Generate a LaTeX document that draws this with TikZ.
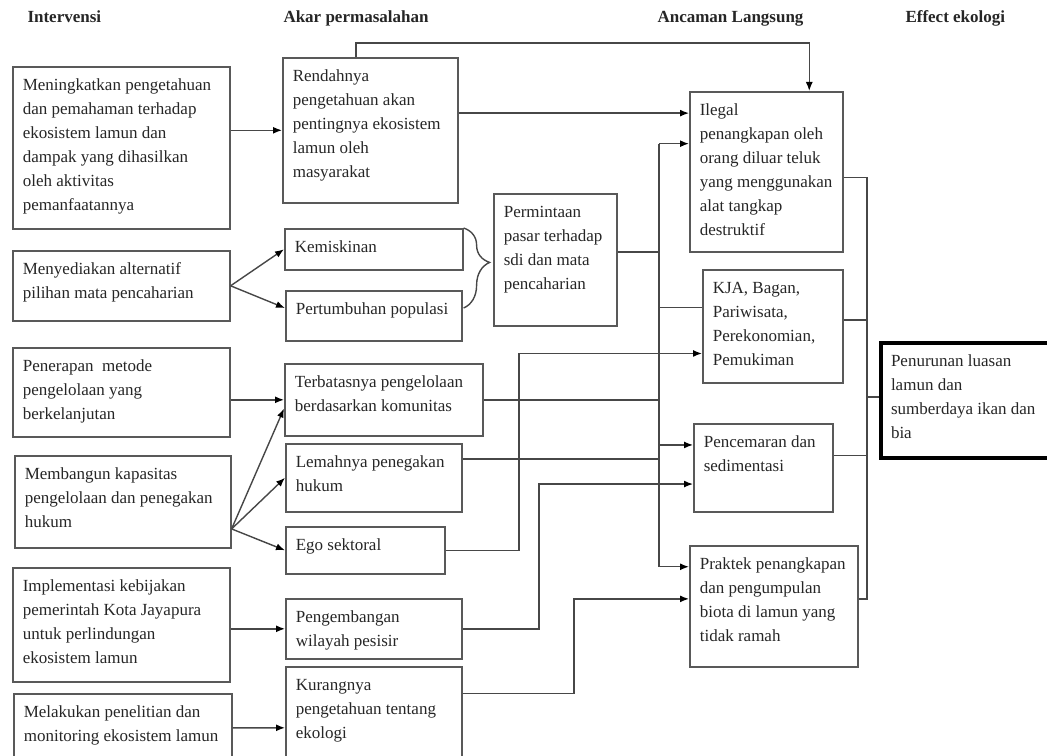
\documentclass[tikz,border=0pt]{standalone}
\usepackage{fontspec}
\setmainfont{Liberation Serif}
\usepackage{tikz}
\usetikzlibrary{arrows.meta,decorations.pathreplacing}
\newcommand{\bx}[3]{\parbox[t][\dimexpr#2bp-14bp\relax][t]{\dimexpr#1bp-20bp\relax}{\begin{tabular}[t]{@{}l@{}}#3\end{tabular}}}

\begin{document}
\begin{tikzpicture}[x=1bp,y=-1bp,
  box/.style={draw=black!65, line width=1.6bp, anchor=north west, inner xsep=10bp, inner ysep=7bp, text=black!85, font=\fontsize{17bp}{24bp}\selectfont},
  head/.style={anchor=base west, text=black!85, font=\fontsize{17bp}{24bp}\selectfont\bfseries},
  arr/.style={-{Latex[length=9bp,width=7bp,color=black]}},
  brc/.style={decorate, decoration={brace, amplitude=26bp, aspect=0.43}}]
\useasboundingbox (0,0) rectangle (1047,756);
\clip (0,0) rectangle (1047,756);
%HEADERS
\node[head] (hint) at (24,23) {Intervensi};
\node[head] (hakar) at (280,23) {Akar permasalahan};
\node[head] (hanc) at (654,23) {Ancaman Langsung};
\node[head] (heff) at (902,23) {Effect ekologi};
%INTERVENSI
\node[box] (int1) at (12,66) {\bx{217}{162}{Meningkatkan pengetahuan\\ dan pemahaman terhadap\\ ekosistem lamun dan\\ dampak yang dihasilkan\\ oleh aktivitas\\ pemanfaatannya}};
\node[box] (int2) at (12,250) {\bx{217}{70}{Menyediakan alternatif\\ pilihan mata pencaharian}};
\node[box] (int3) at (12,347) {\bx{217}{89}{Penerapan\ \ metode\\ pengelolaan yang\\ berkelanjutan}};
\node[box] (int4) at (14,455) {\bx{216}{92}{Membangun kapasitas\\ pengelolaan dan penegakan\\ hukum}};
\node[box] (int5) at (12,567) {\bx{217}{114}{Implementasi kebijakan\\ pemerintah Kota Jayapura\\ untuk perlindungan\\ ekosistem lamun}};
\node[box] (int6) at (13,693) {\bx{218}{68}{Melakukan penelitian dan\\ monitoring ekosistem lamun}};
%AKAR
\node[box] (akar1) at (282,57) {\bx{175}{145}{Rendahnya\\ pengetahuan akan\\ pentingnya ekosistem\\ lamun oleh\\ masyarakat}};
\node[box] (akar2) at (284,228) {\bx{178}{41}{Kemiskinan}};
\node[box] (akar3) at (285,290) {\bx{176}{50}{Pertumbuhan populasi}};
\node[box] (akar4) at (284,363) {\bx{198}{72}{Terbatasnya pengelolaan\\ berdasarkan komunitas}};
\node[box] (akar5) at (285,443) {\bx{176}{68}{Lemahnya penegakan\\ hukum}};
\node[box] (akar6) at (285,526) {\bx{159}{47}{Ego sektoral}};
\node[box] (akar7) at (285,598) {\bx{176}{60}{Pengembangan\\ wilayah pesisir}};
\node[box] (akar8) at (285,666) {\bx{176}{122}{Kurangnya\\ pengetahuan tentang\\ ekologi}};
\node[box] (pasar) at (493,193) {\bx{123}{132}{Permintaan\\ pasar terhadap\\ sdi dan mata\\ pencaharian}};
%ANCAMAN
\node[box] (anc1) at (689,91) {\bx{153}{160}{Ilegal\\ penangkapan oleh\\ orang diluar teluk\\ yang menggunakan\\ alat tangkap\\ destruktif}};
\node[box] (anc2) at (702,269) {\bx{140}{113}{KJA, Bagan,\\ Pariwisata,\\ Perekonomian,\\ Pemukiman}};
\node[box] (anc3) at (693,423) {\bx{139}{88}{Pencemaran dan\\ sedimentasi}};
\node[box] (anc4) at (689,545) {\bx{168}{121}{Praktek penangkapan\\ dan pengumpulan\\ biota di lamun yang\\ tidak ramah}};
%EFFECT
\node[box, draw=black, line width=4bp] (eff) at (879,341) {\bx{190}{115}{Penurunan luasan\\ lamun dan\\ sumberdaya ikan dan\\ bia}};
%BUS LINES
\coordinate (top) at (0,43);
\coordinate (lbus) at (659,0);
\coordinate (rbus) at (867,0);
\coordinate (egox) at (519,0);
\coordinate (pesx) at (539,0);
\coordinate (ekox) at (574,0);
\begin{scope}[draw=black!72, line width=1.4bp]
% intervensi -> akar
\draw[arr] (akar1.west -| int1.east) -- (akar1.west);
\draw[arr] (int2.east) -- (akar2.west);
\draw[arr] (int2.east) -- (akar3.175);
\draw[arr] (akar4.west -| int3.east) -- (akar4.west);
\draw[arr] (int4.346) -- (akar4.185);
\draw[arr] (int4.346) -- (akar5.west);
\draw[arr] (int4.346) -- (akar6.west);
\draw[arr] (akar7.west -| int5.east) -- (akar7.west);
\draw[arr] (int6.east) -- (akar8.west);
\draw[brc] (akar2.north east) -- (akar2.north east |- akar3.175);
% akar -> ancaman
\draw[arr] (akar1.101) -- (akar1.101 |- top) -- (anc1.62 |- top) -- (anc1.62);
\draw[arr] (akar1.11) -- (akar1.11 -| anc1.west);
\draw[arr] (anc1.160 -| lbus) |- (anc4.155);
\draw[arr] (anc1.160 -| lbus) -- (anc1.160);
\draw (pasar.7) -- (pasar.7 -| lbus);
\draw (akar4.east) -- (akar4.east -| lbus);
\draw (akar5.12) -- (akar5.12 -| lbus);
\draw (anc2.165 -| lbus) -- (anc2.165);
\draw[arr] (anc3.162 -| lbus) -- (anc3.162);
\draw[arr] (akar6.east) -| (egox |- anc2.201) -- (anc2.201);
\draw[arr] (akar7.east) -| (pesx |- anc3.193) -- (anc3.193);
\draw[arr] (akar8.21) -| (ekox |- anc4.175) -- (anc4.175);
% ancaman -> effect
\draw (anc1.356) -| (rbus |- anc4.5) -- (anc4.5);
\draw (anc2.5) -- (anc2.5 -| rbus);
\draw (anc3.10) -- (anc3.10 -| rbus);
\draw (eff.178 -| rbus) -- (eff.178);
\end{scope}
\end{tikzpicture}
\end{document}
